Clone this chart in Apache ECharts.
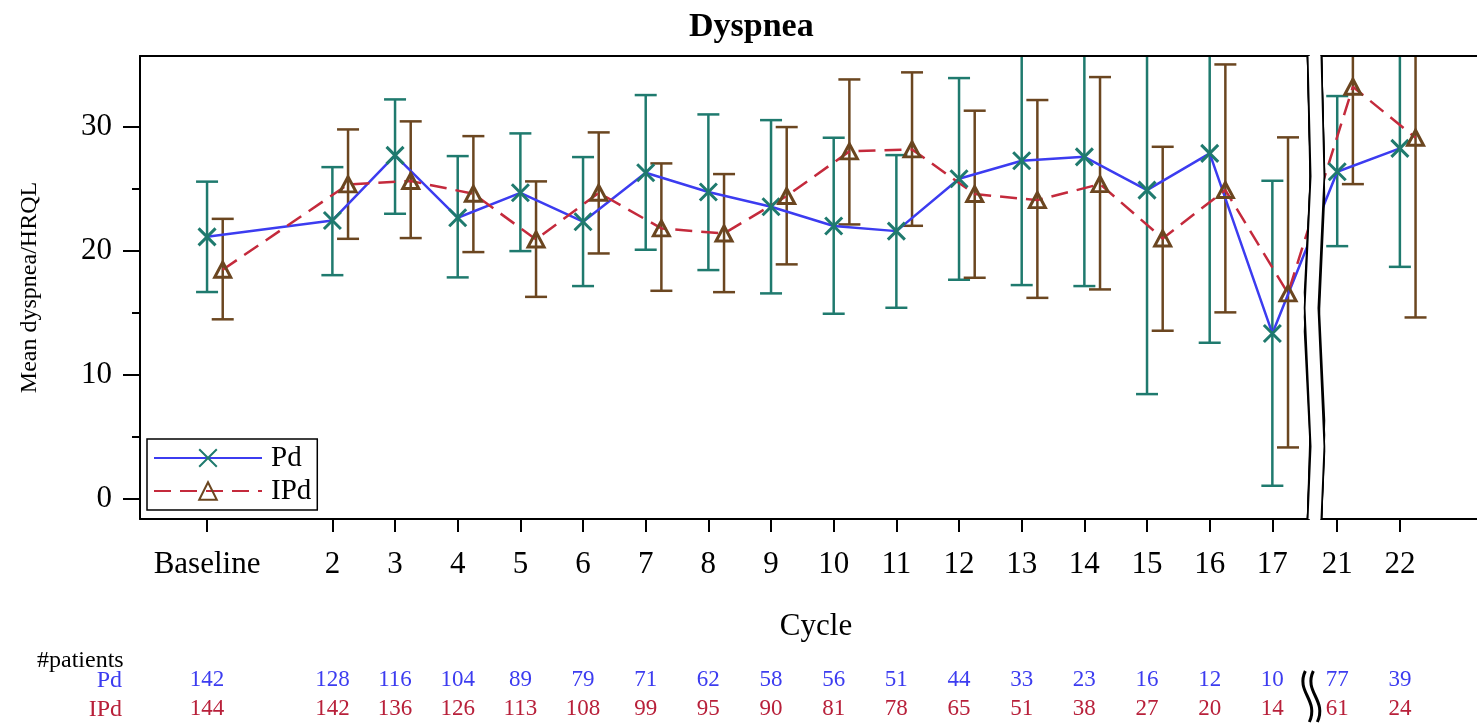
<!DOCTYPE html>
<html><head><meta charset="utf-8">
<script src="https://cdn.jsdelivr.net/npm/echarts@6/dist/echarts.min.js"></script>
<style>html,body{margin:0;padding:0;background:#fff}#c{width:1477px;height:726px}</style>
</head><body><div id="c"></div>
<script>
// ---------- data ----------
const cycles      = [0, 2, 3, 4, 5, 6, 7, 8, 9, 10, 11, 12, 13, 14, 15, 16, 17, 21, 22];
const cycleLabels = ['Baseline','2','3','4','5','6','7','8','9','10','11','12','13','14','15','16','17','21','22'];
const pdMean  = [21.15, 22.47, 27.72, 22.69, 24.70, 22.37, 26.32, 24.76, 23.58, 22.02, 21.61, 25.83, 27.28, 27.60, 24.92, 27.88, 13.36, 26.40, 28.28];
const pdLow   = [16.70, 18.06, 23.01, 17.88, 20.00, 17.18, 20.11, 18.47, 16.59, 14.95, 15.43, 17.69, 17.26, 17.18,  8.47, 12.61,  1.08, 20.40, 18.73];
const pdHigh  = [25.60, 26.77, 32.23, 27.66, 29.49, 27.58, 32.58, 31.02, 30.56, 29.14, 27.74, 33.95, 37.30, 38.00, 41.40, 43.20, 25.67, 32.50, 37.80];
const ipdMean = [18.50, 25.38, 25.65, 24.62, 20.94, 24.70, 21.83, 21.42, 24.44, 28.04, 28.20, 24.60, 24.11, 25.40, 21.02, 24.92, 16.59, 33.25, 29.14];
const ipdLow  = [14.50, 20.99, 21.05, 19.92, 16.31, 19.81, 16.80, 16.69, 18.93, 22.15, 22.04, 17.85, 16.23, 16.91, 13.58, 15.06,  4.17, 25.40, 14.65];
const ipdHigh = [22.60, 29.81, 30.46, 29.27, 25.62, 29.57, 27.07, 26.21, 30.00, 33.84, 34.41, 31.32, 32.18, 34.03, 28.41, 35.05, 29.17, 41.10, 43.60];
const pdCount  = [142, 128, 116, 104, 89, 79, 71, 62, 58, 56, 51, 44, 33, 23, 16, 12, 10, 77, 39];
const ipdCount = [144, 142, 136, 126, 113, 108, 99, 95, 90, 81, 78, 65, 51, 38, 27, 20, 14, 61, 24];
const yTicks = [0, 10, 20, 30];
const yMinorTicks = [5, 15, 25];

// ---------- style ----------
const FONT = '"Liberation Serif", "Times New Roman", serif';
const PD_LINE = '#3c3cf0', PD_MARK = '#1f7a6e';
const IPD_LINE = '#c42a3c', IPD_MARK = '#6b4620';
const PD_TEXT = '#3c3cf0', IPD_TEXT = '#b8203a';
const IPD_OFFSET = 0.25;
const X_MIN = -1.07, X_MAX = 23.47;
const Y_MIN = -1.6, Y_MAX = 35.73;
const BREAK_START = 17.575, BREAK_END = 20.73, BREAK_GAP = 0.19;

const breaks = [{ start: BREAK_START, end: BREAK_END, gap: BREAK_GAP }];
const breakArea = {
  show: true,
  itemStyle: { color: '#fff', borderColor: '#000', borderWidth: 3.5, borderType: 'solid', opacity: 1 },
  zigzagAmplitude: 3, zigzagMinSpan: 110, zigzagMaxSpan: 150, zigzagZ: 100, expandOnClick: false
};

function baseX(extra) {
  return Object.assign({
    type: 'value', min: X_MIN, max: X_MAX, breaks: breaks, breakArea: breakArea,
    splitLine: { show: false }, z: 10
  }, extra);
}
function countFormatter(arr) {
  return function (v) { const i = cycles.indexOf(v); return i >= 0 ? String(arr[i]) : ''; };
}
function errRender(color) {
  return function (params, api) {
    const x = api.value(0), lo = api.value(1), hi = api.value(2);
    const pLo = api.coord([x, lo]), pHi = api.coord([x, hi]);
    const cap = 11;
    const style = { stroke: color, lineWidth: 2.5, fill: null };
    return { type: 'group', children: [
      { type: 'line', shape: { x1: pLo[0], y1: pLo[1], x2: pHi[0], y2: pHi[1] }, style: style },
      { type: 'line', shape: { x1: pLo[0] - cap, y1: pLo[1], x2: pLo[0] + cap, y2: pLo[1] }, style: style },
      { type: 'line', shape: { x1: pHi[0] - cap, y1: pHi[1], x2: pHi[0] + cap, y2: pHi[1] }, style: style }
    ]};
  };
}

const chart = echarts.init(document.getElementById('c'), null, { renderer: 'canvas' });
const option = {
  animation: false,
  backgroundColor: '#fff',
  title: { text: 'Dyspnea', left: 689, top: 10, padding: 0,
    textStyle: { fontFamily: FONT, fontWeight: 'bold', fontSize: 34, color: '#000' } },
  grid: { left: 140, top: 56, right: -15, bottom: 207, containLabel: false, outerBoundsMode: 'none' },
  legend: {
    orient: 'vertical', left: 147, top: 439, data: ['Pd', 'IPd'],
    itemWidth: 108, itemHeight: 22, itemGap: 1, padding: [3, 6, 3, 6],
    borderColor: '#000', borderWidth: 1.5, backgroundColor: '#fff',
    textStyle: { fontFamily: FONT, fontSize: 29, color: '#000', lineHeight: 32, padding: [0, 0, 0, 4] },
    selectedMode: false, z: 20
  },
  xAxis: [
    baseX({
      position: 'bottom',
      axisLine: { show: true, onZero: false, lineStyle: { color: '#000', width: 2 } },
      axisTick: { show: true, length: 13, customValues: cycles, lineStyle: { color: '#000', width: 2 } },
      axisLabel: { customValues: cycles, margin: 30, fontFamily: FONT, fontSize: 31, color: '#000',
        formatter: function (v) { const i = cycles.indexOf(v); return i >= 0 ? cycleLabels[i] : ''; } },
      name: 'Cycle', nameLocation: 'middle', nameGap: 92,
      nameTextStyle: { fontFamily: FONT, fontSize: 31, color: '#000' }
    }),
    baseX({
      position: 'top',
      axisLine: { show: true, onZero: false, lineStyle: { color: '#000', width: 2 } },
      axisTick: { show: false }, axisLabel: { show: false }
    }),
    baseX({
      position: 'bottom', offset: 149,
      axisLine: { show: false, onZero: false }, axisTick: { show: false },
      axisLabel: { customValues: cycles, margin: 0, fontFamily: FONT, fontSize: 23, color: PD_TEXT,
        formatter: countFormatter(pdCount) }
    }),
    baseX({
      position: 'bottom', offset: 178,
      axisLine: { show: false, onZero: false }, axisTick: { show: false },
      axisLabel: { customValues: cycles, margin: 0, fontFamily: FONT, fontSize: 23, color: IPD_TEXT,
        formatter: countFormatter(ipdCount) }
    })
  ],
  yAxis: [
    {
      type: 'value', min: Y_MIN, max: Y_MAX, position: 'left',
      axisLine: { show: true, onZero: false, lineStyle: { color: '#000', width: 2 } },
      axisTick: { show: true, length: 17, customValues: yTicks, lineStyle: { color: '#000', width: 2 } },
      axisLabel: { customValues: yTicks, margin: 28, fontFamily: FONT, fontSize: 31, color: '#000' },
      splitLine: { show: false },
      name: 'Mean dyspnea/HRQL', nameLocation: 'middle', nameGap: 98,
      nameTextStyle: { fontFamily: FONT, fontSize: 24, color: '#000' }
    },
    {
      type: 'value', min: Y_MIN, max: Y_MAX, position: 'left',
      axisLine: { show: false, onZero: false },
      axisTick: { show: true, length: 8, customValues: yMinorTicks, lineStyle: { color: '#000', width: 2 } },
      axisLabel: { show: false }, splitLine: { show: false }
    }
  ],
  graphic: [
    { type: 'text', id: 'tp', left: 37, top: 649, style: { text: '#patients', font: '24px ' + FONT, fill: '#000' } },
    { type: 'text', id: 'tpd', x: 122, y: 681, style: { text: 'Pd', font: '24px ' + FONT, fill: PD_TEXT, align: 'right', verticalAlign: 'middle' } },
    { type: 'text', id: 'tipd', x: 122, y: 710, style: { text: 'IPd', font: '24px ' + FONT, fill: IPD_TEXT, align: 'right', verticalAlign: 'middle' } }
  ],
  series: [
    { type: 'custom', name: 'PdErr', xAxisIndex: 0, yAxisIndex: 0, clip: true, silent: true, z: 2,
      renderItem: errRender(PD_MARK),
      data: cycles.map(function (c, i) { return [c, pdLow[i], pdHigh[i]]; }) },
    { type: 'custom', name: 'IPdErr', xAxisIndex: 0, yAxisIndex: 0, clip: true, silent: true, z: 2,
      renderItem: errRender(IPD_MARK),
      data: cycles.map(function (c, i) { return [c + IPD_OFFSET, ipdLow[i], ipdHigh[i]]; }) },
    { type: 'line', name: 'Pd', xAxisIndex: 0, yAxisIndex: 0, z: 3,
      data: cycles.map(function (c, i) { return [c, pdMean[i]]; }),
      symbol: 'path://M0,0L10,10M10,0L0,10', symbolSize: 17, showAllSymbol: true,
      itemStyle: { color: 'rgba(0,0,0,0)', borderColor: PD_MARK, borderWidth: 3 },
      lineStyle: { color: PD_LINE, width: 2.5 } },
    { type: 'line', name: 'IPd', xAxisIndex: 0, yAxisIndex: 0, z: 3,
      data: cycles.map(function (c, i) { return [c + IPD_OFFSET, ipdMean[i]]; }),
      symbol: 'triangle', symbolSize: [16, 15], showAllSymbol: true,
      itemStyle: { color: 'rgba(0,0,0,0)', borderColor: IPD_MARK, borderWidth: 3 },
      lineStyle: { color: IPD_LINE, width: 2.5, type: [17, 9] } }
  ]
};
chart.setOption(option);

// break mark in the patient-count table, placed at the axis break
const bx = chart.convertToPixel({ xAxisIndex: 0 }, (BREAK_START + BREAK_END) / 2);
function wave(id, dx) {
  return { type: 'bezierCurve', id: id,
    shape: { x1: bx - 5 + dx, y1: 671, cpx1: bx - 15 + dx, cpy1: 692, cpx2: bx + 9 + dx, cpy2: 700, x2: bx - 1 + dx, y2: 722 },
    style: { stroke: '#000', lineWidth: 3, fill: null } };
}
chart.setOption({ graphic: [wave('w1', -4), wave('w2', 4)] });
</script>
</body></html>
